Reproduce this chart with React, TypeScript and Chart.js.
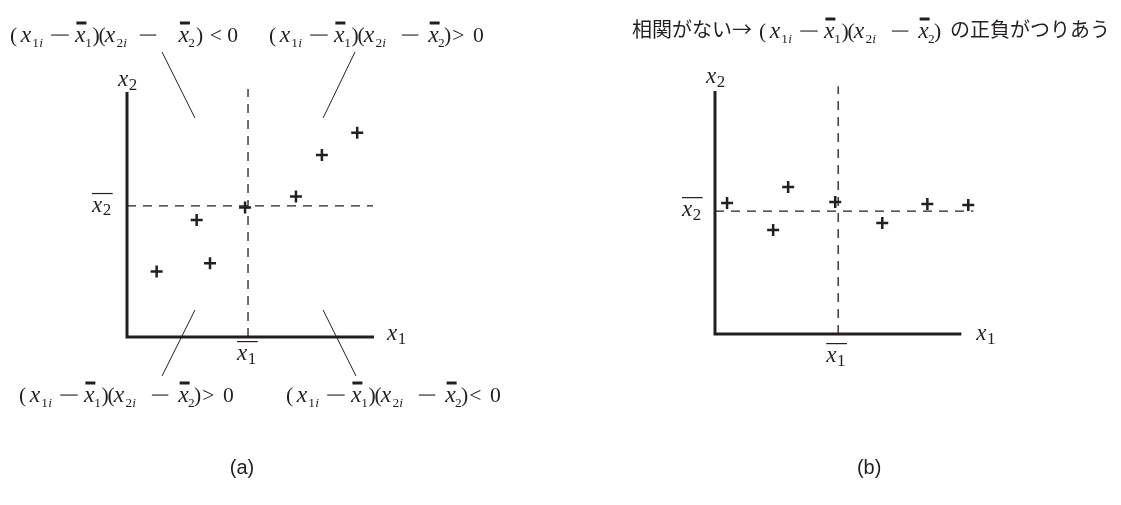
import React, { useEffect, useRef } from "react";
import { Chart, registerables } from "chart.js";

Chart.register(...registerables);

const INK = "#231f20";
const SERIF = '"Liberation Serif", "Times New Roman", serif';

// ---------- data (panel a: positive correlation) ----------
const aX1 = [1.2, 3.36, 2.82, 4.78, 6.84, 7.89, 9.32];
const aX2 = [2.67, 3.01, 4.78, 5.29, 5.73, 7.43, 8.34];
const aMeans = [4.9, 5.35];
const aDashEnd = [9.96, 10.12]; // horizontal mean line x-end, vertical mean line y-end

// ---------- data (panel b: no correlation) ----------
const bX1 = [0.49, 2.36, 2.97, 4.88, 6.79, 8.62, 10.28];
const bX2 = [5.39, 4.28, 6.05, 5.43, 4.57, 5.35, 5.31];
const bMeans = [5.0, 5.06];
const bDashEnd = [10.49, 10.2];

const axisMax = [10, 10];

// leader lines in panel (a) (data units)
const leaderStartX = [1.42, 9.23, 2.75, 7.94];
const leaderStartY = [11.63, 11.63, 1.1, 1.1];
const leaderEndX = [2.75, 7.94, 1.42, 9.27];
const leaderEndY = [8.94, 8.94, -1.59, -1.59];
const quadrantSigns = ["<", ">", ">", "<"];

const titleB = ["相関がない→", "の正負がつりあう"];
const panelLabels = ["(a)", "(b)"];

// ---------- rich text helpers ----------
type Seg = { t?: string; at: number; it?: boolean; sub?: boolean; bar?: boolean; minus?: number };

const EXPR_SCALE = 1.03;

function exprSegs(op: string, spaced: boolean): Seg[] {
  const s: Seg[] = [
    { t: "(", at: 0 },
    { t: "x", at: 10.5, it: true },
    { t: "1", at: 21.5, sub: true },
    { t: "i", at: 28.5, sub: true, it: true },
    { minus: 17, at: 40 },
    { t: "x", at: 63, it: true, bar: true },
    { t: "1", at: 73, sub: true },
    { t: ")", at: 80 },
    { t: "(", at: 86 },
    { t: "x", at: 92, it: true },
    { t: "2", at: 103.5, sub: true },
    { t: "i", at: 110, sub: true, it: true },
    { minus: 16, at: spaced ? 126 : 129 },
    { t: "x", at: spaced ? 163.5 : 154.5, it: true, bar: true },
    { t: "2", at: spaced ? 173 : 164, sub: true },
    { t: ")", at: spaced ? 180.5 : 170 },
  ];
  if (op) {
    s.push({ t: op, at: spaced ? 194 : 178 }, { t: "0", at: spaced ? 211 : 198 });
  }
  return s;
}

function drawSegs(ctx: CanvasRenderingContext2D, segs: Seg[], x: number, y: number) {
  ctx.fillStyle = INK;
  ctx.textAlign = "left";
  ctx.textBaseline = "alphabetic";
  const k = EXPR_SCALE;
  for (const s of segs) {
    const px = x + s.at * k;
    if (s.minus) {
      ctx.fillRect(px, y - 7.5, s.minus * k, 1.1);
      continue;
    }
    const size = (s.sub ? 13 : s.t === "x" ? 23 : 21) * k;
    ctx.font = `${s.it ? "italic " : ""}${size}px ${SERIF}`;
    ctx.fillText(s.t as string, px, y + (s.sub ? 5 : 0));
    if (s.bar) ctx.fillRect(px + 1.5, y - 20.5, 10, 3);
  }
}

function drawAxisLabel(ctx: CanvasRenderingContext2D, sub: string, x: number, y: number, over: boolean) {
  ctx.fillStyle = INK;
  ctx.textAlign = "left";
  ctx.textBaseline = "alphabetic";
  ctx.font = `italic 23px ${SERIF}`;
  ctx.fillText("x", x, y);
  const w = ctx.measureText("x").width;
  ctx.font = `17px ${SERIF}`;
  ctx.fillText(sub, x + w + 0.5, y + 3.5);
  const w2 = ctx.measureText(sub).width;
  if (over) ctx.fillRect(x, y - 19, w + w2 + 2, 1.2);
}

function lineDs(points: { x: number; y: number }[], width: number, dash: number[] = []) {
  return {
    data: points,
    showLine: true,
    borderColor: INK,
    backgroundColor: INK,
    borderWidth: width,
    borderDash: dash,
    pointRadius: 0,
    pointHoverRadius: 0,
    fill: false,
    clip: false as any,
    borderJoinStyle: "miter" as const,
    borderCapStyle: "butt" as const,
  };
}

function pointDs(xs: number[], ys: number[]) {
  return {
    data: xs.map((x, i) => ({ x, y: ys[i] })),
    showLine: false,
    pointStyle: "cross" as const,
    pointRadius: 6,
    pointHoverRadius: 6,
    pointBorderWidth: 2.5,
    pointBorderColor: INK,
    pointBackgroundColor: INK,
    clip: false as any,
  };
}

function baseDatasets(xs: number[], ys: number[], means: number[], dashEnd: number[]) {
  return [
    pointDs(xs, ys),
    lineDs(
      [
        { x: 0, y: axisMax[1] },
        { x: 0, y: 0 },
        { x: axisMax[0], y: 0 },
      ],
      3
    ),
    lineDs(
      [
        { x: means[0], y: 0 },
        { x: means[0], y: dashEnd[1] },
      ],
      1.3,
      [9, 7]
    ),
    lineDs(
      [
        { x: 0, y: means[1] },
        { x: dashEnd[0], y: means[1] },
      ],
      1.3,
      [9, 7]
    ),
  ];
}

function anchors(chart: any, means: number[]) {
  const xs = chart.scales.x;
  const ys = chart.scales.y;
  return {
    ox: xs.getPixelForValue(0),
    oy: ys.getPixelForValue(0),
    xe: xs.getPixelForValue(axisMax[0]),
    ye: ys.getPixelForValue(axisMax[1]),
    mx: xs.getPixelForValue(means[0]),
    my: ys.getPixelForValue(means[1]),
  };
}

function buildA(canvas: HTMLCanvasElement) {
  const textPlugin = {
    id: "textA",
    afterDraw(chart: any) {
      const ctx: CanvasRenderingContext2D = chart.ctx;
      const { ox, oy, xe, ye, mx, my } = anchors(chart, aMeans);
      ctx.save();
      drawAxisLabel(ctx, "2", ox - 9, ye - 6, false);
      drawAxisLabel(ctx, "1", xe + 13, oy + 3, false);
      drawAxisLabel(ctx, "2", ox - 35, my + 6, true);
      drawAxisLabel(ctx, "1", mx - 11, oy + 23, true);
      const topY = ye - 50;
      const botY = oy + 65;
      drawSegs(ctx, exprSegs(quadrantSigns[0], true), ox - 117, topY);
      drawSegs(ctx, exprSegs(quadrantSigns[1], false), ox + 142, topY);
      drawSegs(ctx, exprSegs(quadrantSigns[2], false), ox - 108, botY);
      drawSegs(ctx, exprSegs(quadrantSigns[3], false), ox + 159, botY);
      ctx.fillStyle = INK;
      ctx.font = '20px "Liberation Sans", Arial, sans-serif';
      ctx.textAlign = "center";
      ctx.fillText(panelLabels[0], mx - 6, oy + 137);
      ctx.restore();
    },
  };
  const leaders = leaderStartX.map((sx, i) =>
    lineDs(
      [
        { x: sx, y: leaderStartY[i] },
        { x: leaderEndX[i], y: leaderEndY[i] },
      ],
      1
    )
  );
  return new Chart(canvas, {
    type: "scatter",
    data: { datasets: [...baseDatasets(aX1, aX2, aMeans, aDashEnd), ...leaders] as any },
    options: {
      responsive: false,
      animation: false,
      devicePixelRatio: 1,
      events: [],
      layout: { padding: { left: 127, right: 186, top: 92, bottom: 168 } },
      plugins: { legend: { display: false }, tooltip: { enabled: false }, title: { display: false } },
      scales: {
        x: { type: "linear", min: 0, max: 10, display: false },
        y: { type: "linear", min: 0, max: 10, display: false },
      },
    },
    plugins: [textPlugin],
  });
}

function buildB(canvas: HTMLCanvasElement) {
  const textPlugin = {
    id: "textB",
    afterDraw(chart: any) {
      const ctx: CanvasRenderingContext2D = chart.ctx;
      const { ox, oy, xe, ye, mx, my } = anchors(chart, bMeans);
      ctx.save();
      drawAxisLabel(ctx, "2", ox - 9, ye - 8, false);
      drawAxisLabel(ctx, "1", xe + 15, oy + 6, false);
      drawAxisLabel(ctx, "2", ox - 33, my + 5, true);
      drawAxisLabel(ctx, "1", mx - 12, oy + 28, true);
      // title
      const tx = ox - 83;
      const ty = ye - 54;
      ctx.fillStyle = INK;
      ctx.textAlign = "left";
      ctx.font = '20px "Noto Sans CJK JP", sans-serif';
      ctx.fillText(titleB[0], tx, ty);
      drawSegs(ctx, exprSegs("", false), tx + 127, ty + 1);
      ctx.fillStyle = INK;
      ctx.textAlign = "left";
      ctx.font = '20px "Noto Sans CJK JP", sans-serif';
      ctx.fillText(titleB[1], tx + 318, ty);
      ctx.font = '20px "Liberation Sans", Arial, sans-serif';
      ctx.textAlign = "center";
      ctx.fillText(panelLabels[1], mx + 31, oy + 140);
      ctx.restore();
    },
  };
  return new Chart(canvas, {
    type: "scatter",
    data: { datasets: baseDatasets(bX1, bX2, bMeans, bDashEnd) as any },
    options: {
      responsive: false,
      animation: false,
      devicePixelRatio: 1,
      events: [],
      layout: { padding: { left: 155, right: 135, top: 91, bottom: 171 } },
      plugins: { legend: { display: false }, tooltip: { enabled: false }, title: { display: false } },
      scales: {
        x: { type: "linear", min: 0, max: 11, display: false },
        y: { type: "linear", min: 0, max: 10, display: false },
      },
    },
    plugins: [textPlugin],
  });
}

export default function App() {
  const leftRef = useRef<HTMLCanvasElement>(null);
  const rightRef = useRef<HTMLCanvasElement>(null);
  useEffect(() => {
    const a = buildA(leftRef.current as HTMLCanvasElement);
    const b = buildB(rightRef.current as HTMLCanvasElement);
    return () => {
      a.destroy();
      b.destroy();
    };
  }, []);
  return (
    <div style={{ position: "absolute", left: 0, top: 0, width: 1121, height: 505, background: "#fff", overflow: "hidden" }}>
      <canvas
        ref={leftRef}
        width={560}
        height={505}
        style={{ position: "absolute", left: 0, top: 0, width: 560, height: 505 }}
      />
      <canvas
        ref={rightRef}
        width={561}
        height={505}
        style={{ position: "absolute", left: 560, top: 0, width: 561, height: 505 }}
      />
    </div>
  );
}
